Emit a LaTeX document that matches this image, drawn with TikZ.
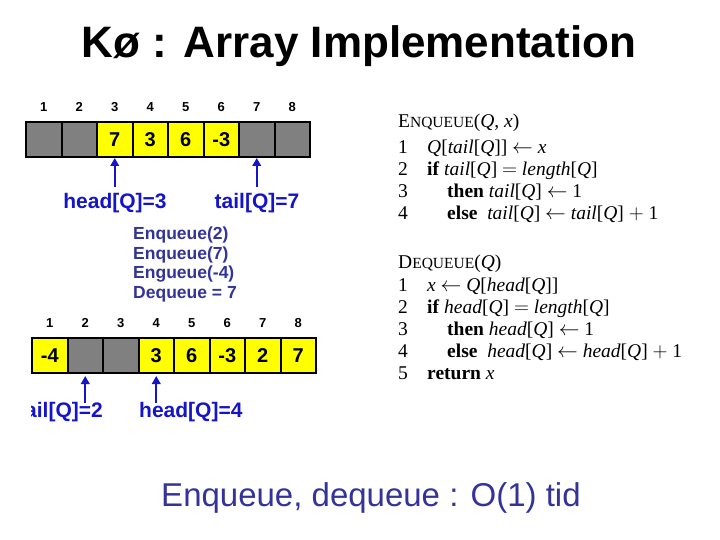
\documentclass[tikz,border=0pt]{standalone}
\usepackage{fontspec}
\setmainfont{Liberation Serif}
\newfontfamily\arial{Liberation Sans}
\usetikzlibrary{arrows.meta}

\definecolor{qblue}{RGB}{20,20,200}
\definecolor{qnavy}{RGB}{51,51,153}
\definecolor{cellyellow}{RGB}{255,255,0}
\definecolor{cellgray}{RGB}{128,128,128}

\tikzset{
  cell/.style={draw=black, line width=2pt, minimum width=35.5pt, minimum height=35pt,
    inner sep=0pt, outer sep=0pt, font=\arial\bfseries\fontsize{20}{20}\selectfont},
  idx/.style={font=\arial\bfseries\fontsize{13}{13}\selectfont, inner sep=0pt},
  ptr/.style={qblue, line width=2pt, -{Triangle[width=8.5pt,length=8pt]}},
  ptrlabel/.style={text=qblue, font=\arial\bfseries\fontsize{21}{21}\selectfont, inner sep=0pt},
  codehead/.style={font=\fontsize{19.5}{22}\selectfont, inner sep=0pt, anchor=base west},
  codebody/.style={font=\fontsize{19.5}{22}\selectfont, inner sep=0pt, anchor=north west},
}

\begin{document}
\begin{tikzpicture}[x=1pt, y=-1pt]
  \useasboundingbox (0,0) rectangle (720,540);

  % title
  \node[font=\arial\bfseries\fontsize{44}{44}\selectfont, anchor=base] (title) at (359,58) {Kø : Array Implementation};

  % array before
  \foreach \i/\v/\c in {1//cellgray, 2//cellgray, 3/7/cellyellow, 4/3/cellyellow,
                        5/6/cellyellow, 6/-3/cellyellow, 7//cellgray, 8//cellgray}{
    \node[cell, fill=\c] (a\i) at ({8.25+35.5*\i},139.5) {\v};
    \node[idx] (ia\i) at ({8.25+35.5*\i},107) {\i};
  }
  \node[ptrlabel, anchor=base] (hq1) at (115,208) {head[Q]=3};
  \node[ptrlabel, anchor=base] (tq1) at (257,208) {tail[Q]=7};
  \draw[ptr] ([yshift=-30pt]a3.south) -- ([yshift=-1pt]a3.south);
  \draw[ptr] ([yshift=-30pt]a7.south) -- ([yshift=-1pt]a7.south);

  % operations
  \node[text=qnavy, font=\arial\bfseries\fontsize{17.5}{19.5}\selectfont, align=left,
        inner sep=0pt, anchor=north west] (ops) at (133,227)
        {Enqueue(2)\\Enqueue(7)\\Engueue(-4)\\Dequeue = 7};

  % array after
  \foreach \i/\v/\c in {1/-4/cellyellow, 2//cellgray, 3//cellgray, 4/3/cellyellow,
                        5/6/cellyellow, 6/-3/cellyellow, 7/2/cellyellow, 8/7/cellyellow}{
    \node[cell, fill=\c] (b\i) at ({14.25+35.5*\i},355.5) {\v};
    \node[idx] (ib\i) at ({14.25+35.5*\i},323) {\i};
  }
  \begin{scope}
    \clip (31,380) rectangle (140,430);
    \node[ptrlabel, anchor=base east] (tq2) at (103,417) {tail[Q]=2};
  \end{scope}
  \node[ptrlabel, anchor=base west] (hq2) at (139,417) {head[Q]=4};
  \draw[ptr] ([yshift=-30pt]b2.south) -- ([yshift=-3pt]b2.south);
  \draw[ptr] ([yshift=-30pt]b4.south) -- ([yshift=-3pt]b4.south);

  % pseudocode
  \node[codehead] (enq) at (398,128) {E{\fontsize{15.5}{15.5}\selectfont NQUEUE}(\textit{Q}, \textit{x})};
  \node[codebody] (enqbody) at (398,138) {%
    \begin{tabular}{@{}p{29pt}@{}l@{}}
      1 & \textit{Q}[\textit{tail}[\textit{Q}]] $\leftarrow$ \textit{x}\\
      2 & \textbf{if} \textit{tail}[\textit{Q}] $=$ \textit{length}[\textit{Q}]\\
      3 & \hspace{20pt}\textbf{then} \textit{tail}[\textit{Q}] $\leftarrow$ 1\\
      4 & \hspace{20pt}\textbf{else}\ \ \textit{tail}[\textit{Q}] $\leftarrow$ \textit{tail}[\textit{Q}] $+$ 1
    \end{tabular}};
  \node[codehead] (deq) at (398,268) {D{\fontsize{15.5}{15.5}\selectfont EQUEUE}(\textit{Q})};
  \node[codebody] (deqbody) at (398,276) {%
    \begin{tabular}{@{}p{29pt}@{}l@{}}
      1 & \textit{x} $\leftarrow$ \textit{Q}[\textit{head}[\textit{Q}]]\\
      2 & \textbf{if} \textit{head}[\textit{Q}] $=$ \textit{length}[\textit{Q}]\\
      3 & \hspace{20pt}\textbf{then} \textit{head}[\textit{Q}] $\leftarrow$ 1\\
      4 & \hspace{20pt}\textbf{else}\ \ \textit{head}[\textit{Q}] $\leftarrow$ \textit{head}[\textit{Q}] $+$ 1\\
      5 & \textbf{return} \textit{x}
    \end{tabular}};

  % summary
  \node[text=qnavy, font=\arial\fontsize{33}{33}\selectfont, anchor=base] (summary) at (371,506) {Enqueue, dequeue : O(1) tid};
\end{tikzpicture}
\end{document}
